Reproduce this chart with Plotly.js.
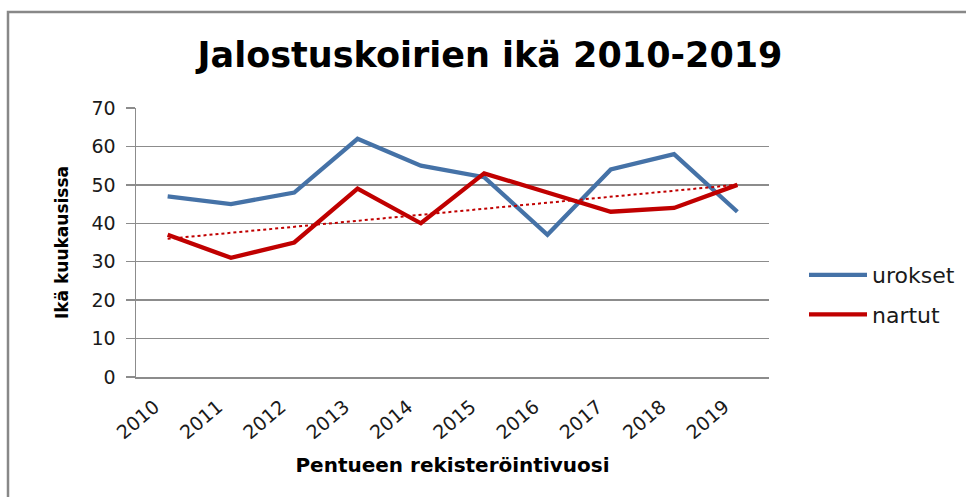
<!DOCTYPE html>
<html>
<head>
<meta charset="utf-8">
<script src="https://cdn.plot.ly/plotly-3.0.1.min.js"></script>
<style>
  html, body { margin: 0; padding: 0; background: #ffffff; }
  #chart { width: 966px; height: 497px; }
</style>
</head>
<body>
<div id="chart"></div>
<script>
// ---- data ----
const years = ['2010', '2011', '2012', '2013', '2014', '2015', '2016', '2017', '2018', '2019'];
const urokset = [47, 45, 48, 62, 55, 52, 37, 54, 58, 43];
const nartut = [37, 31, 35, 49, 40, 53, 48, 43, 44, 50];
const seriesNames = ['urokset', 'nartut'];
const titleText = 'Jalostuskoirien ikä 2010-2019';
const xTitle = 'Pentueen rekisteröintivuosi';
const yTitle = 'Ikä kuukausissa';

// linear trend (least squares) of the 'nartut' series, as in the Excel chart
function linearTrend(vals) {
  const n = vals.length;
  const mx = (n - 1) / 2;
  const my = vals.reduce((a, b) => a + b, 0) / n;
  let sxy = 0, sxx = 0;
  vals.forEach((v, i) => { sxy += (i - mx) * (v - my); sxx += (i - mx) * (i - mx); });
  const slope = sxy / sxx;
  const icpt = my - slope * mx;
  return vals.map((_, i) => icpt + slope * i);
}
const nartutTrend = linearTrend(nartut);

// ---- layout geometry ----
const W = 966, H = 497;
const M = { l: 136, r: 197, t: 108, b: 120, autoexpand: false };
const pw = W - M.l - M.r, ph = H - M.t - M.b;
const px = x => (x - M.l) / pw;
const py = y => (H - M.b - y) / ph;

const blue = '#4572A7';
const red = '#C00000';
const grid = '#8c8c8c';

const traces = [
  { x: years, y: urokset, name: seriesNames[0], type: 'scatter', mode: 'lines',
    line: { color: blue, width: 4.3 }, legendgroup: 'a' },
  { x: years, y: nartut, name: seriesNames[1], type: 'scatter', mode: 'lines',
    line: { color: red, width: 4.3 }, legendgroup: 'b' },
  { x: years, y: nartutTrend, name: 'Linear (nartut)', type: 'scatter', mode: 'lines',
    line: { color: red, width: 2, dash: 'dot' }, showlegend: false, hoverinfo: 'skip' }
];

const layout = {
  width: W, height: H,
  margin: M,
  paper_bgcolor: '#ffffff',
  plot_bgcolor: '#ffffff',
  showlegend: true,
  title: {
    text: titleText,
    font: { family: 'DejaVu Sans, sans-serif', size: 35, weight: 'bold', color: '#000000' },
    xref: 'container', x: 490 / W, xanchor: 'center',
    yref: 'container', y: 1 - 55 / H, yanchor: 'middle'
  },
  xaxis: {
    type: 'category',
    range: [-0.5, years.length - 0.5],
    showgrid: false, zeroline: false,
    showline: true, linecolor: grid, linewidth: 1.5,
    ticks: '',
    tickangle: -40,
    ticklabelshift: -13,
    ticklabelstandoff: 10,
    tickfont: { family: 'DejaVu Sans, sans-serif', size: 19, color: '#1a1a1a' },
    title: { text: xTitle, standoff: 16,
      font: { family: 'DejaVu Sans, sans-serif', size: 20, weight: 'bold', color: '#000000' } },
    automargin: false,
    fixedrange: true
  },
  yaxis: {
    range: [0, 70],
    dtick: 10, tick0: 0,
    showgrid: true, gridcolor: grid, gridwidth: 1.3,
    zeroline: false,
    showline: true, linecolor: grid, linewidth: 1.5,
    ticks: 'outside', ticklen: 9, tickcolor: grid, tickwidth: 1.3,
    ticklabelstandoff: 6,
    tickfont: { family: 'DejaVu Sans, sans-serif', size: 19, color: '#1a1a1a' },
    title: { text: yTitle, standoff: 18,
      font: { family: 'DejaVu Sans, sans-serif', size: 17, weight: 'bold', color: '#000000' } },
    automargin: false,
    fixedrange: true
  },
  legend: {
    x: px(804), xanchor: 'left',
    y: py(254), yanchor: 'top',
    font: { family: 'DejaVu Sans, sans-serif', size: 22, color: '#1a1a1a' },
    bgcolor: 'rgba(0,0,0,0)',
    borderwidth: 0,
    itemwidth: 58,
    tracegroupgap: 8
  },
  shapes: [
    { type: 'path', xref: 'paper', yref: 'paper',
      path: 'M ' + px(8) + ' ' + py(H + 10) + ' L ' + px(8) + ' ' + py(12) + ' L ' + px(W + 10) + ' ' + py(12),
      line: { color: '#888888', width: 2.5 } }
  ]
};

Plotly.newPlot('chart', traces, layout, { staticPlot: true, displayModeBar: false });
</script>
</body>
</html>
